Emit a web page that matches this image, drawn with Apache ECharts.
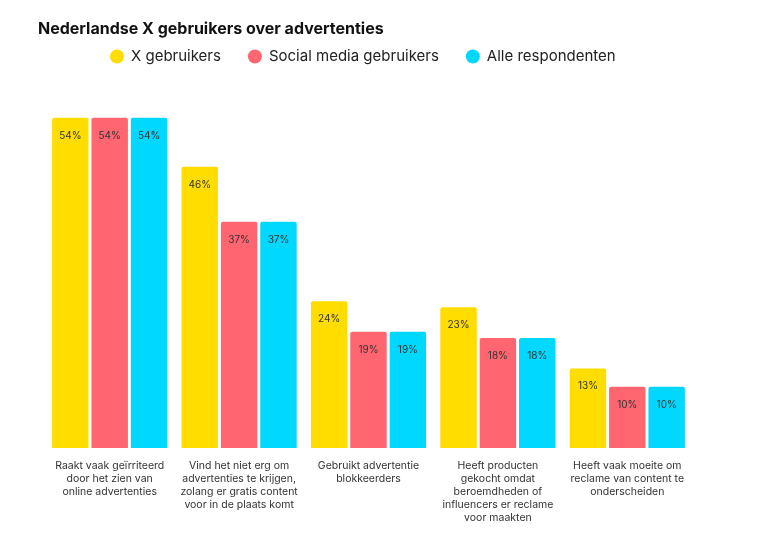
<!DOCTYPE html>
<html>
<head>
    <meta charset="UTF-8">
    <title>Nederlandse X gebruikers over advertenties</title>
    <script src="https://cdn.jsdelivr.net/npm/echarts@6/dist/echarts.min.js"></script>
    <style>
        html, body { margin: 0; padding: 0; background: #fff; }
        #chart { width: 768px; height: 543px; }
    </style>
</head>
<body>
<div id="chart"></div>
<script type="text/javascript">
    // categorieën en waarden (%)
    let categories = [
        'Raakt vaak geïrriteerd\ndoor het zien van\nonline advertenties',
        'Vind het niet erg om\nadvertenties te krijgen,\nzolang er gratis content\nvoor in de plaats komt',
        'Gebruikt advertentie\nblokkeerders',
        'Heeft producten\ngekocht omdat\nberoemdheden of\ninfluencers er reclame\nvoor maakten',
        'Heeft vaak moeite om\nreclame van content te\nonderscheiden'
    ];
    let xUsers = [54, 46, 24, 23, 13];
    let socialUsers = [54, 37, 19, 18, 10];
    let allRespondents = [54, 37, 19, 18, 10];

    let font = 'Inter, "Noto Sans", sans-serif';

    function barSeries(name, data, color) {
        return {
            name: name,
            type: 'bar',
            data: data,
            barGap: '8%',
            barCategoryGap: '11%',
            itemStyle: { color: color, borderRadius: [2, 2, 0, 0] },
            label: {
                show: true,
                position: 'insideTop',
                distance: 13,
                formatter: '{c}%',
                color: '#333',
                fontSize: 10,
                fontFamily: font
            }
        };
    }

    let chart = echarts.init(document.getElementById('chart'));
    let option = {
        backgroundColor: '#fff',
        title: {
            text: 'Nederlandse X gebruikers over advertenties',
            left: 33,
            top: 16,
            textStyle: { fontSize: 16, fontWeight: 'bold', color: '#111', fontFamily: font }
        },
        legend: {
            left: 105,
            top: 44,
            icon: 'circle',
            itemWidth: 14,
            itemHeight: 14,
            itemGap: 27,
            textStyle: { fontSize: 15, color: '#222', fontFamily: font, padding: [0, 0, 0, 2] }
        },
        grid: { left: 45, right: 76, top: 81, bottom: 95 },
        xAxis: {
            type: 'category',
            data: categories,
            axisLine: { show: false },
            axisTick: { show: false },
            axisLabel: {
                interval: 0,
                margin: 11,
                color: '#333',
                fontSize: 10.5,
                lineHeight: 13,
                fontFamily: font
            }
        },
        yAxis: {
            type: 'value',
            min: 0,
            max: 60,
            show: false
        },
        series: [
            barSeries('X gebruikers', xUsers, '#FFDD00'),
            barSeries('Social media gebruikers', socialUsers, '#FF6670'),
            barSeries('Alle respondenten', allRespondents, '#00D8FF')
        ]
    };
    chart.setOption(option);
</script>
</body>
</html>
